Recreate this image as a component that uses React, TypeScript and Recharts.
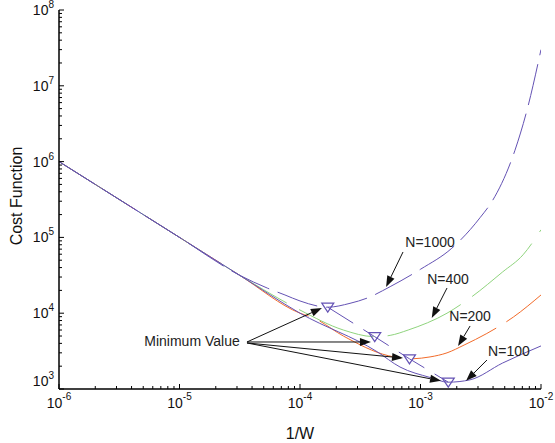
import React from 'react';
import { LineChart, Line, XAxis, YAxis, ReferenceLine, ReferenceDot, Label } from 'recharts';

const FONT = 'Arial, "Liberation Sans", Helvetica, sans-serif';
const PURPLE = '#6452b4';
const GREEN = '#8fd47d';
const ORANGE = '#f26b2a';

// 1/W (x) and cost function (y)
const n1000X = [1e-6, 1e-5, 3.16e-5, 5.37e-5, 7.5e-5, 1e-4, 1.7e-4, 2.6e-4, 3.6e-4, 5.6e-4, 1e-3, 1.82e-3, 3.12e-3, 3.98e-3, 6.08e-3, 7.66e-3, 1e-2];
const n1000Y = [1e6, 1e5, 3.16e4, 2.14e4, 1.74e4, 1.45e4, 1.2e4, 1.35e4, 1.58e4, 2.24e4, 3.8e4, 7.2e4, 1.82e5, 3.1e5, 1.41e6, 4.8e6, 3.0e7];

const n400X = [1e-6, 1e-5, 3.16e-5, 1e-4, 2.29e-4, 4.17e-4, 5.6e-4, 7.9e-4, 1.66e-3, 2.57e-3, 4.8e-3, 7.1e-3, 1e-2];
const n400Y = [1e6, 1e5, 3.16e4, 1.1e4, 6.0e3, 4.9e3, 5.1e3, 6.0e3, 1.0e4, 1.58e4, 3.5e4, 5.9e4, 1.26e5];

const n200X = [1e-6, 1e-5, 3.16e-5, 1e-4, 1.29e-4, 2.29e-4, 5.4e-4, 8.1e-4, 1.2e-3, 1.66e-3, 2.3e-3, 3.55e-3, 5.9e-3, 1e-2];
const n200Y = [1e6, 1e5, 3.16e4, 1.0e4, 8.7e3, 5.0e3, 2.75e3, 2.5e3, 2.65e3, 3.0e3, 3.8e3, 5.4e3, 8.9e3, 1.74e4];

const n100X = [1e-6, 1e-5, 3.16e-5, 1e-4, 4.37e-4, 6.76e-4, 1.2e-3, 1.7e-3, 2.57e-3, 4.8e-3, 1e-2];
const n100Y = [1e6, 1e5, 3.16e4, 1.0e4, 3.1e3, 1.95e3, 1.42e3, 1.23e3, 1.32e3, 2.2e3, 3.7e3];

const minX = [1.7e-4, 4.17e-4, 8.1e-4, 1.7e-3];
const minY = [1.2e4, 4.9e3, 2.5e3, 1.23e3];

const xDecades = [1e-6, 1e-5, 1e-4, 1e-3, 1e-2];
const yDecades = [1e3, 1e4, 1e5, 1e6, 1e7, 1e8];
const minorSteps = [2, 3, 4, 5, 6, 7, 8, 9];

// annotations: [from x, from y, to x, to y]
const minArrows = [
  [3.63e-5, 4.17e3, 1.52e-4, 1.17e4],
  [3.63e-5, 4.17e3, 3.88e-4, 4.17e3],
  [3.63e-5, 4.05e3, 7.16e-4, 2.56e3],
  [3.63e-5, 4.05e3, 1.48e-3, 1.28e3],
];
const nLabels = ['N=1000', 'N=400', 'N=200', 'N=100'];
const nLabelPos = [[1.2e-3, 8.7e4], [1.69e-3, 2.83e4], [2.58e-3, 9.2e3], [5.42e-3, 3.17e3]];
const nArrows = [
  [7.16e-4, 6.42e4, 5.18e-4, 2.22e4],
  [1.66e-3, 2.15e4, 1.24e-3, 8.65e3],
  [2.58e-3, 6.78e3, 2.05e-3, 3.69e3],
  [3.56e-3, 2.41e3, 2.39e-3, 1.28e3],
];

const toPoints = (xs: number[], ys: number[]) => xs.map((x, i) => ({ x, y: ys[i] }));
const withMinor = (dec: number[]) =>
  dec.flatMap((d, i) => (i < dec.length - 1 ? [d, ...minorSteps.map((m) => m * d)] : [d]));
const isMajor = (v: number) => Math.abs(Math.log10(v) - Math.round(Math.log10(v))) < 1e-6;
const expOf = (v: number) => Math.round(Math.log10(v));

const xTicks = withMinor(xDecades);
const yTicks = withMinor(yDecades);

const BottomTick = (props: any) => {
  const { x, y, payload } = props;
  const major = isMajor(payload.value);
  return (
    <g>
      <line x1={x} y1={y} x2={x} y2={y - (major ? 5 : 3)} stroke="#000" />
      {major && (
        <text x={x} y={y + 19} textAnchor="middle" fontFamily={FONT} fontSize={14} fill="#111">
          10<tspan dy={-8} fontSize={10}>{expOf(payload.value)}</tspan>
        </text>
      )}
    </g>
  );
};

const TopTick = (props: any) => {
  const { x, y, payload } = props;
  const major = isMajor(payload.value);
  return <line x1={x} y1={y} x2={x} y2={y + (major ? 5 : 3)} stroke="#000" />;
};

const LeftTick = (props: any) => {
  const { x, y, payload } = props;
  const major = isMajor(payload.value);
  const e = expOf(payload.value);
  const base = e === 3 ? y - 3 : y + 5;
  return (
    <g>
      <line x1={x} y1={y} x2={x + (major ? 5 : 3)} y2={y} stroke="#000" />
      {major && (
        <text x={x - 5} y={base} textAnchor="end" fontFamily={FONT} fontSize={14} fill="#111">
          10<tspan dy={-7} fontSize={10}>{e}</tspan>
        </text>
      )}
    </g>
  );
};

const RightTick = (props: any) => {
  const { x, y, payload } = props;
  const major = isMajor(payload.value);
  return <line x1={x} y1={y} x2={x - (major ? 5 : 3)} y2={y} stroke="#000" />;
};

const Arrow = (props: any) => {
  const { x1, y1, x2, y2 } = props;
  const a = Math.atan2(y2 - y1, x2 - x1);
  const len = 11;
  const w = 4;
  const bx = x2 - len * Math.cos(a);
  const by = y2 - len * Math.sin(a);
  const px = -Math.sin(a) * w;
  const py = Math.cos(a) * w;
  return (
    <g>
      <line x1={x1} y1={y1} x2={bx} y2={by} stroke="#111" strokeWidth={1} />
      <polygon points={`${x2},${y2} ${bx + px},${by + py} ${bx - px},${by - py}`} fill="#111" />
    </g>
  );
};

const Triangle = (props: any) => {
  const { cx, cy } = props;
  if (cx == null || cy == null) return <g />;
  return (
    <polygon
      points={`${cx - 6},${cy - 4} ${cx + 6},${cy - 4} ${cx},${cy + 5}`}
      fill="none"
      stroke={PURPLE}
      strokeWidth={1.2}
    />
  );
};

export default function App() {
  return (
    <div style={{ position: 'absolute', left: 0, top: 0, background: '#fff' }}>
      <LineChart width={555} height={443} margin={{ top: 10, right: 14, bottom: 14, left: 9 }}>
        <XAxis
          dataKey="x"
          type="number"
          scale="log"
          domain={[1e-6, 1e-2]}
          allowDataOverflow
          ticks={xTicks}
          interval={0}
          height={40}
          tickSize={0}
          tickMargin={0}
          tickLine={false}
          tick={BottomTick}
          axisLine={{ stroke: '#000', strokeWidth: 1.5 }}
        >
          <Label
            content={() => (
              <text x={300} y={439} textAnchor="middle" fontFamily={FONT} fontSize={16} fill="#111">
                1/W
              </text>
            )}
          />
        </XAxis>
        <XAxis
          xAxisId="top"
          orientation="top"
          dataKey="x"
          type="number"
          scale="log"
          domain={[1e-6, 1e-2]}
          allowDataOverflow
          ticks={xTicks}
          interval={0}
          height={0}
          tickSize={0}
          tickMargin={0}
          tickLine={false}
          tick={TopTick}
          axisLine={{ stroke: '#000', strokeWidth: 1.5 }}
        />
        <YAxis
          type="number"
          scale="log"
          domain={[1e3, 1e8]}
          allowDataOverflow
          ticks={yTicks}
          interval={0}
          width={50}
          tickSize={0}
          tickMargin={0}
          tickLine={false}
          tick={LeftTick}
          axisLine={{ stroke: '#000', strokeWidth: 1.5 }}
        >
          <Label
            content={() => (
              <text
                x={22}
                y={196}
                textAnchor="middle"
                fontFamily={FONT}
                fontSize={16}
                fill="#111"
                transform="rotate(-90 22 196)"
              >
                Cost Function
              </text>
            )}
          />
        </YAxis>
        <YAxis
          yAxisId="right"
          orientation="right"
          type="number"
          scale="log"
          domain={[1e3, 1e8]}
          allowDataOverflow
          ticks={yTicks}
          interval={0}
          width={0}
          tickSize={0}
          tickMargin={0}
          tickLine={false}
          tick={RightTick}
          axisLine={{ stroke: '#000', strokeWidth: 1.5 }}
        />

        <Line data={toPoints(n200X, n200Y)} dataKey="y" type="monotone" stroke={ORANGE} strokeWidth={1} strokeDasharray="90 12" dot={false} isAnimationActive={false} />
        <Line data={toPoints(n400X, n400Y)} dataKey="y" type="monotone" stroke={GREEN} strokeWidth={1} strokeDasharray="80 14" dot={false} isAnimationActive={false} />
        <Line data={toPoints(n1000X, n1000Y)} dataKey="y" type="monotone" stroke={PURPLE} strokeWidth={1} strokeDasharray="42 9" dot={false} isAnimationActive={false} />
        <Line data={toPoints(n100X, n100Y)} dataKey="y" type="monotone" stroke={PURPLE} strokeWidth={1} dot={false} isAnimationActive={false} />
        <Line data={toPoints(minX, minY)} dataKey="y" type="linear" stroke={PURPLE} strokeWidth={1} strokeDasharray="30 12" dot={Triangle} isAnimationActive={false} />

        {minArrows.map((a, i) => (
          <ReferenceLine key={'ma' + i} segment={[{ x: a[0], y: a[1] }, { x: a[2], y: a[3] }]} shape={Arrow} />
        ))}
        {nArrows.map((a, i) => (
          <ReferenceLine key={'na' + i} segment={[{ x: a[0], y: a[1] }, { x: a[2], y: a[3] }]} shape={Arrow} />
        ))}
        <ReferenceDot
          x={1.27e-5}
          y={4.3e3}
          r={0}
          stroke="none"
          label={{ value: 'Minimum Value', position: 'center', fontSize: 14, fill: '#222', fontFamily: FONT }}
        />
        {nLabels.map((t, i) => (
          <ReferenceDot
            key={t}
            x={nLabelPos[i][0]}
            y={nLabelPos[i][1]}
            r={0}
            stroke="none"
            label={{ value: t, position: 'center', fontSize: 14, fill: '#222', fontFamily: FONT }}
          />
        ))}
      </LineChart>
    </div>
  );
}
